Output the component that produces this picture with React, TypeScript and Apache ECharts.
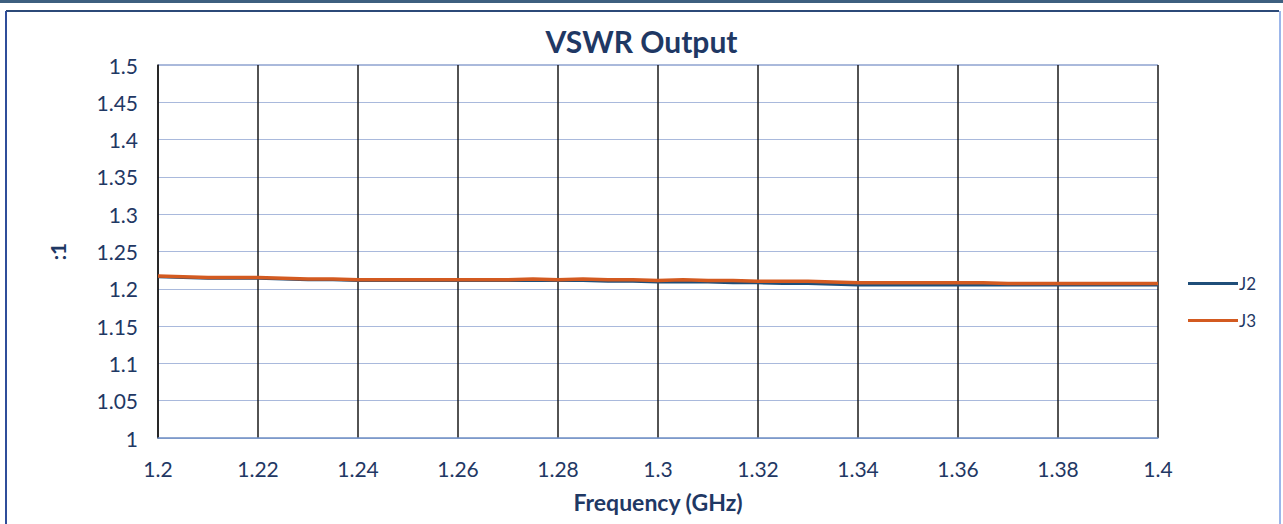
import React, { useEffect, useRef } from "react";
import * as echarts from "echarts";

const freqGHz = [
  1.2, 1.205, 1.21, 1.215, 1.22, 1.225, 1.23, 1.235, 1.24, 1.245,
  1.25, 1.255, 1.26, 1.265, 1.27, 1.275, 1.28, 1.285, 1.29, 1.295,
  1.3, 1.305, 1.31, 1.315, 1.32, 1.325, 1.33, 1.335, 1.34, 1.345,
  1.35, 1.355, 1.36, 1.365, 1.37, 1.375, 1.38, 1.385, 1.39, 1.395, 1.4,
];

const j2 = [
  1.216, 1.215, 1.214, 1.214, 1.214, 1.213, 1.212, 1.212, 1.211, 1.211,
  1.211, 1.211, 1.211, 1.211, 1.211, 1.211, 1.211, 1.211, 1.210, 1.210,
  1.209, 1.209, 1.209, 1.208, 1.208, 1.207, 1.207, 1.206, 1.205, 1.205,
  1.205, 1.205, 1.205, 1.205, 1.205, 1.205, 1.205, 1.205, 1.205, 1.205, 1.205,
];

const j3 = [
  1.217, 1.216, 1.215, 1.215, 1.215, 1.214, 1.213, 1.213, 1.212, 1.212,
  1.212, 1.212, 1.212, 1.212, 1.212, 1.213, 1.212, 1.213, 1.212, 1.212,
  1.211, 1.212, 1.211, 1.211, 1.210, 1.210, 1.210, 1.209, 1.208, 1.208,
  1.208, 1.208, 1.208, 1.208, 1.207, 1.207, 1.207, 1.207, 1.207, 1.207, 1.207,
];

const seriesNames = ["J2", "J3"];
const seriesColors = ["#1f4e79", "#d35a20"];

const textColor = "#1f3864";
const fontFamily = "Lato, 'Open Sans', sans-serif";

export default function App() {
  const ref = useRef<HTMLDivElement>(null);

  useEffect(() => {
    if (!ref.current) return;
    const chart = echarts.init(ref.current, undefined, { renderer: "svg" });
    const fmt = (v: number) => String(Number(v.toFixed(2)));
    chart.setOption({
      animation: false,
      backgroundColor: "#ffffff",
      title: {
        text: "VSWR Output",
        left: "center",
        top: 21,
        textStyle: { color: textColor, fontSize: 30, fontWeight: "bold", fontFamily },
      },
      legend: {
        orient: "vertical",
        left: 1183,
        top: 270,
        itemGap: 20,
        itemWidth: 50,
        itemHeight: 3,
        icon: "rect",
        data: seriesNames,
        textStyle: { color: textColor, fontSize: 17, fontFamily, padding: [0, 0, 0, -4] },
      },
      grid: { left: 158, right: 125, top: 65, bottom: 86, containLabel: false },
      xAxis: {
        type: "value",
        min: 1.2,
        max: 1.4,
        interval: 0.02,
        name: "Frequency (GHz)",
        nameLocation: "middle",
        nameGap: 52,
        nameTextStyle: { color: textColor, fontSize: 23, fontWeight: "bold", fontFamily },
        axisLine: { show: true, lineStyle: { color: "#6f8fc4", width: 1.5 } },
        axisTick: { show: false },
        axisLabel: {
          color: textColor,
          fontSize: 21,
          fontFamily,
          margin: 20,
          formatter: fmt,
        },
        splitLine: { show: true, lineStyle: { color: "#1a1a1a", width: 1.5 } },
      },
      yAxis: {
        type: "value",
        min: 1,
        max: 1.5,
        interval: 0.05,
        name: ":1",
        nameLocation: "middle",
        nameGap: 90,
        nameRotate: 90,
        nameTextStyle: { color: textColor, fontSize: 21, fontWeight: "bold", fontFamily },
        axisLine: { show: true, lineStyle: { color: "#1a1a1a", width: 1.5 } },
        axisTick: { show: false },
        axisLabel: { color: textColor, fontSize: 21, fontFamily, margin: 20, formatter: fmt },
        splitLine: { show: true, lineStyle: { color: "#a9b9dc", width: 1 } },
      },
      series: [
        {
          name: seriesNames[0],
          type: "line",
          data: freqGHz.map((f, i) => [f, j2[i]]),
          showSymbol: false,
          lineStyle: { color: seriesColors[0], width: 3 },
          itemStyle: { color: seriesColors[0] },
        },
        {
          name: seriesNames[1],
          type: "line",
          data: freqGHz.map((f, i) => [f, j3[i]]),
          showSymbol: false,
          lineStyle: { color: seriesColors[1], width: 3.5 },
          itemStyle: { color: seriesColors[1] },
        },
      ],
      graphic: [
        { type: "rect", shape: { x: 0, y: 0, width: 1283, height: 3 }, style: { fill: "#3d5f7f" } },
        { type: "line", shape: { x1: 6, y1: 11, x2: 1279, y2: 11 }, style: { stroke: "#2c4a78", lineWidth: 2 } },
        { type: "line", shape: { x1: 6, y1: 11, x2: 6, y2: 524 }, style: { stroke: "#2f4d9a", lineWidth: 2 } },
        { type: "line", shape: { x1: 1280, y1: 11, x2: 1280, y2: 524 }, style: { stroke: "#9cb6ea", lineWidth: 2 } },
        {
          type: "line",
          shape: { x1: 158, y1: 65, x2: 1158, y2: 65 },
          style: { stroke: "#8fa3cf", lineWidth: 1.5 },
        },
      ],
    });
    return () => chart.dispose();
  }, []);

  return (
    <div
      ref={ref}
      style={{ position: "fixed", left: 0, top: 0, width: 1283, height: 524 }}
    />
  );
}
